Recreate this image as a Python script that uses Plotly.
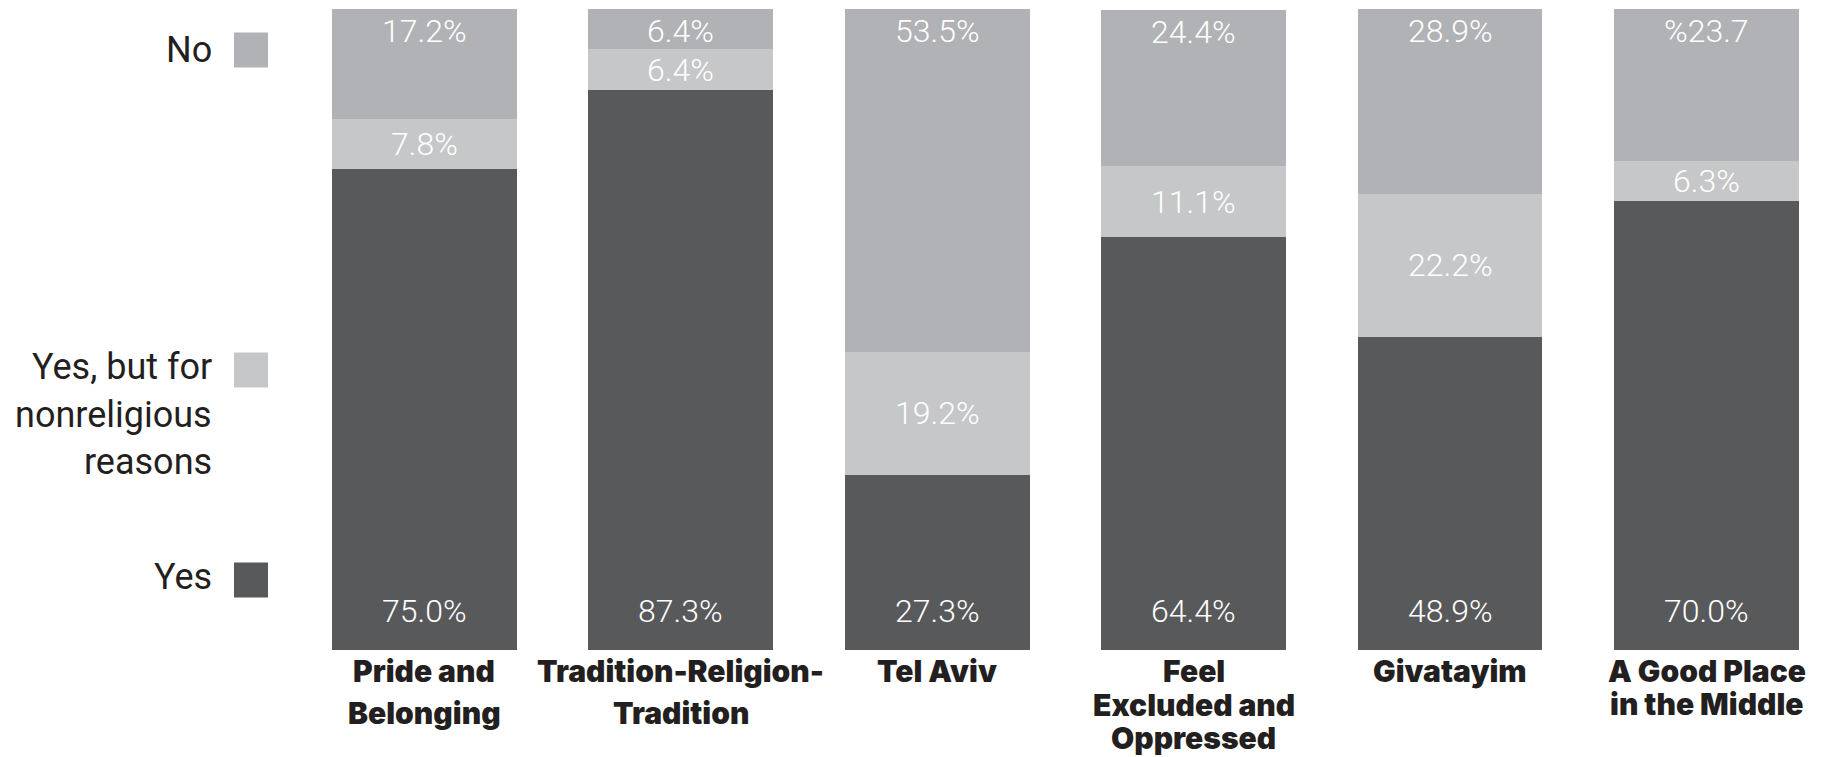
import plotly.graph_objects as go

categories = ["Pride and Belonging", "Tradition-Religion-Tradition", "Tel Aviv",
              "Feel Excluded and Oppressed", "Givatayim", "A Good Place in the Middle"]
label_lines = [["Pride and", "Belonging"], ["Tradition-Religion-", "Tradition"], ["Tel Aviv"],
               ["Feel", "Excluded and", "Oppressed"], ["Givatayim"], ["A Good Place", "in the Middle"]]
yes_vals = [75.0, 87.3, 27.3, 64.4, 48.9, 70.0]
mid_vals = [7.8, 6.4, 19.2, 11.1, 22.2, 6.3]
no_vals = [17.2, 6.4, 53.5, 24.4, 28.9, 23.7]
yes_text = ["75.0%", "87.3%", "27.3%", "64.4%", "48.9%", "70.0%"]
mid_text = ["7.8%", "6.4%", "19.2%", "11.1%", "22.2%", "6.3%"]
no_text = ["17.2%", "6.4%", "53.5%", "24.4%", "28.9%", "%23.7"]

YES_C = "#58595b"
MID_C = "#c6c7c9"
NO_C = "#b1b2b5"
DARK = "#231f20"

OFF = 8  # page body margin
W, H = 1822 - OFF, 757 - OFF
TOP, BOTTOM = 9 - OFF, 650 - OFF  # plot area in figure px
LEFT = 296 - OFF
line_gap = [42, 42, 42, 33.5, 42, 33]  # the original labels are not spaced alike

fig = go.Figure()
for vals, col, name in [(yes_vals, YES_C, "Yes"), (mid_vals, MID_C, "Yes, but for nonreligious reasons"),
                        (no_vals, NO_C, "No")]:
    fig.add_trace(go.Bar(x=categories, y=vals, marker=dict(color=col, line=dict(width=0)),
                         name=name, hoverinfo="y"))

val_font = dict(family="Roboto", size=32, color="white", weight=300)
cat_font = dict(family="Inter", size=30, color=DARK, weight=900)
ann = []
for i, c in enumerate(categories):
    total = min(yes_vals[i] + mid_vals[i] + no_vals[i], 100)
    ann.append(dict(x=c, y=0, xref="x", yref="y", text=yes_text[i], showarrow=False,
                    yanchor="middle", yshift=39, font=val_font))
    ann.append(dict(x=c, y=yes_vals[i] + mid_vals[i] / 2, xref="x", yref="y", text=mid_text[i],
                    showarrow=False, yanchor="middle", font=val_font))
    ann.append(dict(x=c, y=total, xref="x", yref="y", text=no_text[i], showarrow=False,
                    yanchor="middle", yshift=-22, font=val_font))
    for k, line in enumerate(label_lines[i]):
        ann.append(dict(x=c, y=0, xref="x", yref="paper", text=line, showarrow=False,
                        yanchor="middle", yshift=-(21 + k * line_gap[i]), font=cat_font))

# legend on the left, drawn by hand
def py2paper(py):
    return (BOTTOM - (py - OFF)) / (BOTTOM - TOP)

leg_font = dict(family="Roboto", size=36, color=DARK)
legend_lines = [("No", 50), ("Yes, but for", 367), ("nonreligious", 415), ("reasons", 462), ("Yes", 577)]
for txt, py in legend_lines:
    ann.append(dict(x=206 / W, y=py2paper(py), xref="paper", yref="paper", text=txt, showarrow=False,
                    xanchor="right", yanchor="middle", font=leg_font))

shapes = []
for col, py in [(NO_C, 50), (MID_C, 370), (YES_C, 580)]:
    shapes.append(dict(type="rect", xref="paper", yref="paper", x0=(234 - OFF) / W, x1=(268 - OFF) / W,
                       y0=py2paper(py + 17.5), y1=py2paper(py - 17.5), fillcolor=col, line=dict(width=0)))

fig.update_layout(
    barmode="stack",
    width=W, height=H,
    margin=dict(l=0, r=0, t=TOP, b=H - BOTTOM, autoexpand=False),
    paper_bgcolor="white", plot_bgcolor="white",
    showlegend=False,
    bargap=0.28,
    annotations=ann,
    shapes=shapes,
    xaxis=dict(domain=[LEFT / W, 1], range=[-0.5, 5.45], showgrid=False, showline=False, ticks="",
               showticklabels=False, automargin=False),
    yaxis=dict(range=[0, 100], visible=False, automargin=False),
)

fig.write_html("out.html")
